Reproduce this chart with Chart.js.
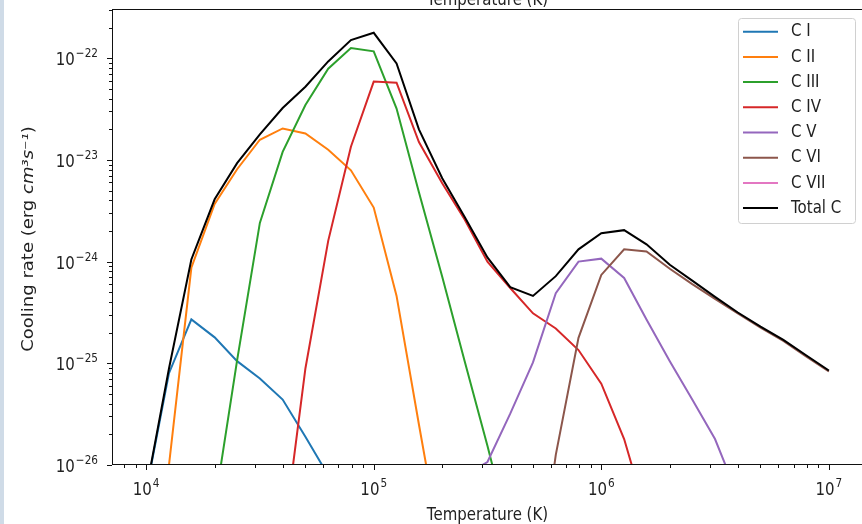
<!DOCTYPE html>
<html>
<head>
<meta charset="utf-8">
<script src="https://cdn.jsdelivr.net/npm/chart.js@4.4.0/dist/chart.umd.min.js"></script>
<style>
html, body { margin: 0; padding: 0; background: #fff; overflow: hidden; }
#wrap { position: relative; width: 862px; height: 524px; overflow: hidden; }
#strip { position: absolute; left: 0; top: 0; width: 4px; height: 524px; background: #cfdbe7; z-index: 2; }
#box { position: absolute; left: 0; top: 0; width: 868px; height: 524px; }
</style>
</head>
<body>
<div id="wrap">
  <div id="strip"></div>
  <div id="box"><canvas id="cooling" width="868" height="524"></canvas></div>
</div>
<script>
// Temperature grid (K)
var temperatures = [1.00e4, 1.26e4, 1.58e4, 2.00e4, 2.51e4, 3.16e4, 3.98e4, 5.01e4, 6.31e4, 7.94e4,
                    1.00e5, 1.26e5, 1.58e5, 2.00e5, 2.51e5, 3.16e5, 3.98e5, 5.01e5, 6.31e5, 7.94e5,
                    1.00e6, 1.26e6, 1.58e6, 2.00e6, 2.51e6, 3.16e6, 3.98e6, 5.01e6, 6.31e6, 7.94e6, 1.00e7];

// Cooling rates per ion (erg cm^3 s^-1), null = not plotted
var coolingCI   = [5.5e-27, 8.0e-26, 2.7e-25, 1.8e-25, 1.05e-25, 7.1e-26, 4.4e-26, 1.9e-26, 7.9e-27, 2.5e-27,
                   6.3e-28, null, null, null, null, null, null, null, null, null,
                   null, null, null, null, null, null, null, null, null, null, null];
var coolingCII  = [1.0e-28, 1.0e-26, 8.7e-25, 3.7e-24, 8.1e-24, 1.58e-23, 2.04e-23, 1.82e-23, 1.26e-23, 7.9e-24,
                   3.4e-24, 4.6e-25, 2.5e-26, 1.3e-27, null, null, null, null, null, null,
                   null, null, null, null, null, null, null, null, null, null, null];
var coolingCIII = [null, null, 1.0e-28, 4.0e-27, 1.07e-25, 2.4e-24, 1.2e-23, 3.47e-23, 7.9e-23, 1.26e-22,
                   1.17e-22, 3.2e-23, 4.8e-24, 7.1e-25, 1.05e-25, 1.55e-26, 2.0e-27, 2.0e-28, null, null,
                   null, null, null, null, null, null, null, null, null, null, null];
var coolingCIV  = [null, null, null, null, null, 1.0e-28, 1.6e-27, 8.9e-26, 1.6e-24, 1.35e-23,
                   5.9e-23, 5.75e-23, 1.5e-23, 5.9e-24, 2.6e-24, 1.0e-24, 5.5e-25, 3.1e-25, 2.2e-25, 1.35e-25,
                   6.3e-26, 1.8e-26, 3.2e-27, 4.0e-28, null, null, null, null, null, null, null];
var coolingCV   = [null, null, null, null, null, null, null, null, null, null,
                   null, null, null, 1.0e-27, 7.9e-27, 1.07e-26, 3.2e-26, 1.02e-25, 4.9e-25, 1.0e-24,
                   1.07e-24, 6.9e-25, 2.7e-25, 1.05e-25, 4.4e-26, 1.8e-26, 5.0e-27, 1.3e-27, null, null, null];
var coolingCVI  = [null, null, null, null, null, null, null, null, null, null,
                   null, null, null, null, null, null, null, 3.0e-28, 1.26e-26, 1.78e-25,
                   7.4e-25, 1.32e-24, 1.26e-24, 8.5e-25, 6.0e-25, 4.3e-25, 3.1e-25, 2.24e-25, 1.66e-25, 1.17e-25, 8.3e-26];
var coolingCVII = [null, null, null, null, null, null, null, null, null, null,
                   null, null, null, null, null, null, null, null, null, null,
                   null, null, null, null, null, null, null, null, null, null, null];
var coolingTotal = [5.6e-27, 8.9e-26, 1.05e-24, 4.1e-24, 9.3e-24, 1.78e-23, 3.24e-23, 5.25e-23, 9.3e-23, 1.51e-22,
                    1.78e-22, 8.9e-23, 2.0e-23, 6.6e-24, 2.75e-24, 1.1e-24, 5.6e-25, 4.6e-25, 7.2e-25, 1.32e-24,
                    1.9e-24, 2.04e-24, 1.48e-24, 9.3e-25, 6.5e-25, 4.5e-25, 3.16e-25, 2.3e-25, 1.7e-25, 1.2e-25, 8.5e-26];

var seriesLabels = ['C I', 'C II', 'C III', 'C IV', 'C V', 'C VI', 'C VII', 'Total C'];
var seriesColors = ['#1f77b4', '#ff7f0e', '#2ca02c', '#d62728', '#9467bd', '#8c564b', '#e377c2', '#000000'];
var seriesValues = [coolingCI, coolingCII, coolingCIII, coolingCIV, coolingCV, coolingCVI, coolingCVII, coolingTotal];

// Tick labels (10 with a superscript exponent)
var xTickValues = [1e4, 1e5, 1e6, 1e7];
var xTickExponents = ['4', '5', '6', '7'];
var yTickValues = [1e-26, 1e-25, 1e-24, 1e-23, 1e-22];
var yTickExponents = ['\u221226', '\u221225', '\u221224', '\u221223', '\u221222'];

var FONT = '"DejaVu Sans", sans-serif';
var STRETCH = 1.2; // the reference text is a bit taller than wide

function sameValue(a, b) {
    return Math.abs(Math.log10(a) - Math.log10(b)) < 1e-6;
}

// major + minor ticks (2..9 per decade) inside [min, max]
function logTicks(min, max) {
    var list = [];
    for (var e = Math.floor(Math.log10(min)); e <= Math.ceil(Math.log10(max)); e++) {
        for (var m = 1; m < 10; m++) {
            var v = m * Math.pow(10, e);
            if (v >= min && v <= max) list.push({ value: v });
        }
    }
    return list;
}

function isMajor(value, values) {
    for (var i = 0; i < values.length; i++) {
        if (sameValue(value, values[i])) return true;
    }
    return false;
}

function tallText(ctx, text, x, y) {
    ctx.save();
    ctx.translate(x, y);
    ctx.scale(1, STRETCH);
    ctx.fillText(text, 0, 0);
    ctx.restore();
}

// "10" + raised exponent; align 'center' or 'right' at x, baseline y
function powerLabel(ctx, exp, x, y, align) {
    ctx.font = '15px ' + FONT;
    var w1 = ctx.measureText('10').width;
    ctx.font = '10.5px ' + FONT;
    var w2 = ctx.measureText(exp).width;
    var start = align === 'right' ? x - w1 - w2 - 1 : x - (w1 + w2 + 1) / 2;
    ctx.textAlign = 'left';
    ctx.textBaseline = 'alphabetic';
    ctx.font = '15px ' + FONT;
    tallText(ctx, '10', start, y);
    ctx.font = '10.5px ' + FONT;
    tallText(ctx, exp, start + w1 + 1, y - 8);
}

var datasets = [];
for (var s = 0; s < seriesLabels.length; s++) {
    var points = [];
    for (var i = 0; i < temperatures.length; i++) {
        points.push({ x: temperatures[i], y: seriesValues[s][i] });
    }
    datasets.push({
        label: seriesLabels[s],
        data: points,
        borderColor: seriesColors[s],
        backgroundColor: seriesColors[s],
        borderWidth: 2,
        pointRadius: 0,
        fill: false,
        tension: 0,
        spanGaps: false,
        clip: 0,
        order: seriesLabels.length - s
    });
}

var axesPlugin = {
    id: 'axesDecor',
    afterDraw: function (chart) {
        var ctx = chart.ctx;
        var a = chart.chartArea;
        var xs = chart.scales.x, ys = chart.scales.y;
        var cx = (a.left + a.right) / 2;
        ctx.save();
        ctx.fillStyle = '#222';

        // label of the panel above, cut by the top edge
        ctx.font = '15px ' + FONT;
        ctx.textAlign = 'center';
        ctx.textBaseline = 'alphabetic';
        tallText(ctx, 'Temperature (K)', cx, 5);

        // x title
        ctx.textBaseline = 'middle';
        tallText(ctx, 'Temperature (K)', cx, 515);

        // frame
        ctx.strokeStyle = '#111';
        ctx.lineWidth = 1;
        ctx.strokeRect(a.left + 0.5, a.top + 0.5, a.right - a.left, a.bottom - a.top - 1);

        // tick marks
        ctx.beginPath();
        xs.ticks.forEach(function (t) {
            var px = Math.round(xs.getPixelForValue(t.value)) + 0.5;
            var len = isMajor(t.value, xTickValues) ? 5 : 3;
            ctx.moveTo(px, a.bottom);
            ctx.lineTo(px, a.bottom + len);
        });
        ys.ticks.forEach(function (t) {
            var py = Math.round(ys.getPixelForValue(t.value)) + 0.5;
            var len = isMajor(t.value, yTickValues) ? 5 : 3;
            ctx.moveTo(a.left, py);
            ctx.lineTo(a.left - len, py);
        });
        ctx.stroke();

        // tick labels
        xTickValues.forEach(function (v, k) {
            powerLabel(ctx, xTickExponents[k], xs.getPixelForValue(v), 495, 'center');
        });
        yTickValues.forEach(function (v, k) {
            powerLabel(ctx, yTickExponents[k], 98, ys.getPixelForValue(v) + 7, 'right');
        });

        // y title with math part in italics
        var parts = [
            { t: 'Cooling rate (erg ', f: '15px ' + FONT },
            { t: 'cm\u00B3', f: 'italic 15px ' + FONT },
            { t: 's\u207B\u00B9', f: 'italic 15px ' + FONT },
            { t: ')', f: '15px ' + FONT }
        ];
        var total = 0;
        parts.forEach(function (p) { ctx.font = p.f; p.w = ctx.measureText(p.t).width; total += p.w; });
        ctx.save();
        ctx.translate(29, (a.top + a.bottom) / 2 + 2);
        ctx.rotate(-Math.PI / 2);
        ctx.scale(STRETCH, 1);
        ctx.textAlign = 'left';
        ctx.textBaseline = 'middle';
        var pos = -total / 2;
        parts.forEach(function (p) { ctx.font = p.f; ctx.fillText(p.t, pos, 0); pos += p.w; });
        ctx.restore();

        // legend (upper right)
        var lx = 738, ly = 18, lw = 117, lh = 205;
        ctx.fillStyle = 'rgba(255,255,255,0.85)';
        ctx.strokeStyle = '#d0d0d0';
        ctx.lineWidth = 1;
        ctx.beginPath();
        ctx.roundRect(lx + 0.5, ly + 0.5, lw, lh, 3);
        ctx.fill();
        ctx.stroke();
        ctx.font = '15px ' + FONT;
        ctx.textAlign = 'left';
        ctx.textBaseline = 'middle';
        chart.data.datasets.forEach(function (ds, k) {
            var ry = 31.7 + k * 25.2;
            ctx.strokeStyle = ds.borderColor;
            ctx.lineWidth = 2;
            ctx.beginPath();
            ctx.moveTo(743, ry);
            ctx.lineTo(778, ry);
            ctx.stroke();
            ctx.fillStyle = '#222';
            tallText(ctx, ds.label, 791, ry);
        });
        ctx.restore();
    }
};

new Chart(document.getElementById('cooling'), {
    type: 'line',
    data: { datasets: datasets },
    options: {
        responsive: false,
        animation: false,
        events: [],
        layout: { padding: { top: 9, right: 5, left: 0, bottom: 0 } },
        plugins: { legend: { display: false }, tooltip: { enabled: false } },
        scales: {
            x: {
                type: 'logarithmic',
                min: 7079,
                max: 14125000,
                grid: { display: false, drawTicks: false },
                border: { display: false },
                ticks: { display: false, autoSkip: false },
                afterBuildTicks: function (scale) { scale.ticks = logTicks(scale.min, scale.max); },
                afterFit: function (scale) {
                    scale.height = 59;
                    scale.paddingLeft = 0;
                    scale.paddingRight = 0;
                }
            },
            y: {
                type: 'logarithmic',
                min: 1e-26,
                max: 3.05e-22,
                grid: { display: false, drawTicks: false },
                border: { display: false },
                ticks: { display: false, autoSkip: false },
                afterBuildTicks: function (scale) { scale.ticks = logTicks(scale.min, scale.max); },
                afterFit: function (scale) {
                    scale.width = 112;
                    scale.paddingTop = 0;
                    scale.paddingBottom = 0;
                }
            }
        }
    },
    plugins: [axesPlugin]
});
</script>
</body>
</html>
